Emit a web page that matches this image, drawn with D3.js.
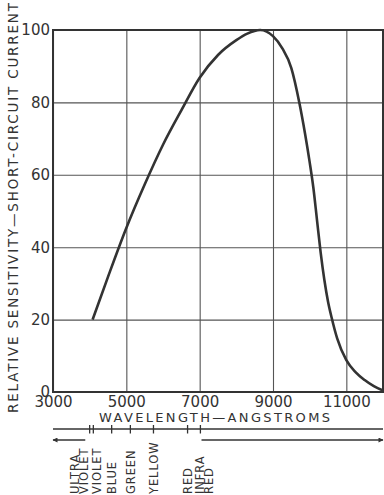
<!DOCTYPE html>
<html>
<head>
<meta charset="utf-8">
<script src="https://cdn.jsdelivr.net/npm/d3@7"></script>
<style>
  body { margin: 0; background: #fff; }
  svg { display: block; }
  text { font-family: "DejaVu Sans", sans-serif; fill: #333; }
</style>
</head>
<body>
<svg id="chart" width="384" height="495"></svg>
<script>
// response curve
const wavelengths = [4080, 4500, 5000, 5500, 6000, 6500, 7000, 7500, 8000, 8300, 8650, 9000,
    9250, 9500, 9717, 9872, 10000, 10100, 10200, 10300, 10400, 10500, 10600, 10750,
    11000, 11250, 11500, 11750, 12000];
const sensitivity = [20, 31.8, 45.3, 57.3, 68.3, 77.8, 86.8, 93.1, 97.2, 99.0, 100, 98.3,
    95, 89.5, 80, 71.5, 63.5, 56.5, 47.5, 38.5, 31, 25, 20.5, 14.8,
    8.8, 5.5, 3.3, 1.6, 0.4];

const xTicks = [3000, 5000, 7000, 9000, 11000];
const yTicks = [0, 20, 40, 60, 80, 100];

// colour band under the axis
const bandTicks = [4000, 4100, 4600, 5110, 5740, 6670, 7020];
const bandLabels = ["ULTRA", "VIOLET", "VIOLET", "BLUE", "GREEN", "YELLOW", "RED", "INFRA", "RED"];
const bandLabelAt = [3610, 3840, 4210, 4620, 5140, 5750, 6690, 7010, 7260];
const arrowSpans = [[3880, 3000], [7050, 12000]];

const svg = d3.select("#chart"),
    margin = { top: 30, right: 1, bottom: 103, left: 53 },
    width = +svg.attr("width"),
    height = +svg.attr("height"),
    chartWidth = width - margin.left - margin.right,
    chartHeight = height - margin.top - margin.bottom;

const ink = "#333";

const x = d3.scaleLinear().domain([3000, 12000]).range([margin.left, margin.left + chartWidth]);
const y = d3.scaleLinear().domain([0, 100]).range([margin.top + chartHeight, margin.top]);

// grid + x labels
const xAxis = svg.append("g")
    .attr("transform", `translate(0,${margin.top + chartHeight})`)
    .call(d3.axisBottom(x).tickValues(xTicks).tickFormat(d3.format("d"))
        .tickSize(-chartHeight).tickPadding(4));
xAxis.select(".domain").remove();
xAxis.selectAll("line").attr("stroke", "#555").attr("stroke-width", 1.1);
xAxis.selectAll("text").style("font-size", "15px").attr("fill", ink);

const yAxis = svg.append("g")
    .attr("transform", `translate(${margin.left},0)`)
    .call(d3.axisLeft(y).tickValues(yTicks).tickSize(-chartWidth).tickPadding(3));
yAxis.select(".domain").remove();
yAxis.selectAll("line").attr("stroke", "#555").attr("stroke-width", 1.1);
yAxis.selectAll("text").style("font-size", "15px").attr("fill", ink);

// frame
svg.append("rect")
    .attr("x", x(3000)).attr("y", y(100))
    .attr("width", x(12000) - x(3000)).attr("height", y(0) - y(100))
    .attr("fill", "none").attr("stroke", ink).attr("stroke-width", 2);

// curve
const line = d3.line()
    .x((d, i) => x(wavelengths[i]))
    .y(d => y(d))
    .curve(d3.curveMonotoneX);

svg.append("path")
    .datum(sensitivity)
    .attr("fill", "none")
    .attr("stroke", ink)
    .attr("stroke-width", 2.6)
    .attr("d", line);

// axis titles
svg.append("text")
    .attr("transform", `translate(18,${(3 + 413) / 2}) rotate(-90)`)
    .attr("text-anchor", "middle")
    .attr("textLength", 410)
    .attr("lengthAdjust", "spacing")
    .style("font-size", "13.5px")
    .text("RELATIVE SENSITIVITY\u2014SHORT-CIRCUIT CURRENT");

svg.append("text")
    .attr("x", 214.5)
    .attr("y", 422)
    .attr("text-anchor", "middle")
    .attr("textLength", 231)
    .attr("lengthAdjust", "spacing")
    .style("font-size", "13px")
    .text("WAVELENGTH\u2014ANGSTROMS");

// spectrum band
const bandY = 429;
svg.append("line")
    .attr("x1", x(3000)).attr("x2", x(12000))
    .attr("y1", bandY).attr("y2", bandY)
    .attr("stroke", ink).attr("stroke-width", 1.5);

svg.append("g")
    .selectAll("line")
    .data(bandTicks)
    .join("line")
    .attr("x1", d => x(d)).attr("x2", d => x(d))
    .attr("y1", bandY - 4).attr("y2", bandY + 4.5)
    .attr("stroke", ink).attr("stroke-width", 1.3);

svg.append("defs").append("marker")
    .attr("id", "arrow")
    .attr("viewBox", "0 0 10 10")
    .attr("refX", 9).attr("refY", 5)
    .attr("markerWidth", 8).attr("markerHeight", 5)
    .attr("markerUnits", "userSpaceOnUse")
    .attr("orient", "auto")
    .append("path")
    .attr("d", "M0,0L10,5L0,10z")
    .attr("fill", ink);

svg.append("g")
    .selectAll("line")
    .data(arrowSpans)
    .join("line")
    .attr("x1", d => x(d[0])).attr("x2", d => x(d[1]))
    .attr("y1", 440).attr("y2", 440)
    .attr("stroke", ink).attr("stroke-width", 1.5)
    .attr("marker-end", "url(#arrow)");

svg.append("g")
    .selectAll("text")
    .data(bandLabels)
    .join("text")
    .attr("transform", (d, i) => `translate(${x(bandLabelAt[i]) + 4},494) rotate(-90)`)
    .style("font-size", "11.5px")
    .style("letter-spacing", "0.9px")
    .text(d => d);
</script>
</body>
</html>
